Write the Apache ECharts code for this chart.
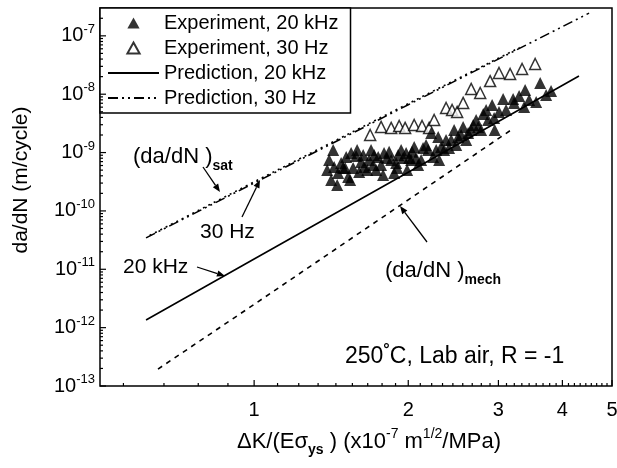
<!DOCTYPE html>
<html>
<head>
<meta charset="utf-8">
<script src="https://cdn.jsdelivr.net/npm/echarts@6/dist/echarts.min.js"></script>
<style>
html,body{margin:0;padding:0;background:#fff}
#chart{width:617px;height:468px}
</style>
</head>
<body>
<div id="chart"></div>
<script>
// Crack growth rate vs normalised stress intensity range (log-log)
const expHighFreq = [ // Experiment, 20 kHz  [dK/(E*sys), da/dN]
  [1.389,5.02e-10],[1.401,7.46e-10],[1.414,3.39e-10],[1.427,1.11e-9],[1.433,5.65e-10],
  [1.453,2.79e-10],[1.459,4.46e-10],[1.479,6.63e-10],[1.492,5.43e-10],[1.506,5.43e-10],
  [1.513,8.39e-10],[1.526,3.81e-10],[1.540,3.39e-10],[1.547,9.87e-10],[1.561,5.43e-10],
  [1.582,8.73e-10],[1.589,1.11e-9],[1.604,4.64e-10],[1.618,6.90e-10],[1.633,9.12e-10],
  [1.640,5.65e-10],[1.663,5.02e-10],[1.677,7.46e-10],[1.692,1.11e-9],[1.708,6.11e-10],
  [1.716,9.12e-10],[1.731,5.02e-10],[1.747,8.39e-10],[1.770,6.11e-10],[1.786,4.13e-10],
  [1.794,9.87e-10],[1.818,8.07e-10],[1.835,1.03e-9],[1.852,7.46e-10],[1.877,4.46e-10],
  [1.894,6.63e-10],[1.903,5.43e-10],[1.911,9.12e-10],[1.937,1.11e-9],[1.954,8.07e-10],
  [1.981,9.87e-10],[1.990,5.02e-10],[2.008,8.07e-10],[2.026,7.46e-10],[2.035,1.03e-9],
  [2.054,1.25e-9],[2.072,8.07e-10],[2.091,6.11e-10],[2.119,7.46e-10],[2.138,1.20e-9],
  [2.167,1.35e-9],[2.187,1.11e-9],[2.217,2.17e-9],[2.237,8.39e-10],[2.268,1.11e-9],
  [2.288,1.85e-9],[2.298,7.46e-10],[2.319,1.25e-9],[2.350,1.11e-9],[2.371,1.64e-9],
  [2.403,1.20e-9],[2.426,1.64e-9],[2.458,2.44e-9],[2.481,1.35e-9],[2.503,1.85e-9],
  [2.537,2.00e-9],[2.560,2.75e-9],[2.595,1.64e-9],[2.618,2.17e-9],[2.654,2.44e-9],
  [2.678,2.97e-9],[2.714,3.61e-9],[2.739,2.75e-9],[2.776,2.44e-9],[2.802,4.58e-9],
  [2.839,5.36e-9],[2.864,3.61e-9],[2.916,6.54e-9],[2.943,3.90e-9],[2.950,2.44e-9],
  [3.008,4.95e-9],[3.064,8.28e-9],[3.105,5.36e-9],[3.205,8.28e-9],[3.219,7.08e-9],
  [3.293,9.31e-9],[3.368,6.05e-9],[3.383,1.18e-8],[3.444,7.96e-9],[3.555,7.36e-9],
  [3.620,1.56e-8],[3.718,9.69e-9],[3.802,1.13e-8]
];
const expLowFreq = [ // Experiment, 30 Hz
  [1.685,2.00e-9],[1.770,2.75e-9],[1.852,2.64e-9],[1.920,2.85e-9],[1.972,2.64e-9],
  [2.054,2.97e-9],[2.128,2.85e-9],[2.197,2.64e-9],[2.247,3.61e-9],[2.371,5.80e-9],
  [2.436,5.36e-9],[2.492,4.95e-9],[2.560,7.08e-9],[2.654,1.23e-8],[2.764,1.05e-8],
  [2.890,1.68e-8],[3.008,2.31e-8],[3.162,2.22e-8],[3.337,2.70e-8],[3.539,3.29e-8]
];
const predHighFreq = [[0.615,1.35e-12],[1,1.5e-11],[2,4.6e-10],[3,3.4e-9],[4.31,2.05e-8]];
const predLowFreq = [[0.615,3.45e-11],[1,3.0e-10],[2,6.6e-9],[4.51,2.45e-7]];
const satRate = [[0.625,3.8e-11],[1,3.15e-10],[2,6.9e-9],[3.3,6.3e-8]];
const mechRate = [[0.649,1.95e-13],[1,2.5e-12],[2,1.55e-10],[3.2,2.55e-9]];

const legendNames = ['Experiment, 20 kHz','Experiment, 30 Hz','Prediction, 20 kHz','Prediction, 30 Hz'];
const xMajorTicks = [1,2,3,4,5];
const yMajorExponents = [-13,-12,-11,-10,-9,-8,-7];

const X_MIN = 0.5, X_MAX = 5, Y_MIN = 1e-13, Y_MAX = 3e-7;

// minor ticks: eight linear subdivisions between integer steps (x) and decades (y)
const xMinorTicks = [];
for (let n = 0; n < 5; n++) for (let k = 1; k <= 8; k++) {
  const v = n + k / 9;
  if (v > X_MIN && v < X_MAX) xMinorTicks.push(v);
}
const yMinorTicks = [];
for (let e = -13; e <= -7; e++) for (let m = 2; m <= 9; m++) {
  const v = m * Math.pow(10, e);
  if (v < Y_MAX) yMinorTicks.push(v);
}

const FONT = '"Liberation Sans", Arial, sans-serif';
const BLACK = '#000';
const TRIANGLE = 'path://M5,0L10,9L0,9Z';

const xTickData = xMajorTicks.map(v => [v, Y_MIN, 1]).concat(xMinorTicks.map(v => [v, Y_MIN, 0]));
const yTickData = yMajorExponents.map(e => [X_MIN, Math.pow(10, e), 1, e]).concat(yMinorTicks.map(v => [X_MIN, v, 0, 0]));

function renderXTick(params, api) {
  const x = api.value(0);
  const p = api.coord([x, Y_MIN]);
  const major = api.value(2) === 1;
  const kids = [{type: 'line', shape: {x1: p[0], y1: p[1], x2: p[0], y2: p[1] - (major ? 6 : 3)},
    style: {stroke: BLACK, lineWidth: 1.2}}];
  if (major) kids.push({type: 'text', style: {text: String(x), x: p[0], y: p[1] + 14,
    align: 'center', verticalAlign: 'top', fill: BLACK, font: '20px ' + FONT}});
  return {type: 'group', children: kids};
}
function renderYTick(params, api) {
  const p = api.coord([X_MIN, api.value(1)]);
  const major = api.value(2) === 1;
  const kids = [{type: 'line', shape: {x1: p[0], y1: p[1], x2: p[0] + (major ? 6 : 3), y2: p[1]},
    style: {stroke: BLACK, lineWidth: 1.2}}];
  if (major) kids.push({type: 'text', style: {
    text: '{b|10}{s|' + api.value(3) + '}', x: p[0] - 5, y: p[1], align: 'right', verticalAlign: 'middle',
    rich: {b: {fontSize: 20, fontFamily: FONT, lineHeight: 26, fill: BLACK},
           s: {fontSize: 13, fontFamily: FONT, lineHeight: 13, verticalAlign: 'top', fill: BLACK}}}});
  return {type: 'group', children: kids};
}

const chart = echarts.init(document.getElementById('chart'), null, {renderer: 'canvas'});

function arrow(x1, y1, x2, y2) {
  const a = Math.atan2(y2 - y1, x2 - x1), L = 8, W = 3.2;
  const bx = x2 - L * Math.cos(a), by = y2 - L * Math.sin(a);
  return [
    {type: 'line', shape: {x1, y1, x2: bx, y2: by}, style: {stroke: BLACK, lineWidth: 1.3}, z: 50},
    {type: 'polygon', shape: {points: [[x2, y2],
      [bx + W * Math.sin(a), by - W * Math.cos(a)], [bx - W * Math.sin(a), by + W * Math.cos(a)]]},
      style: {fill: BLACK}, z: 50}
  ];
}
function label(text, x, y, extra) {
  return Object.assign({type: 'text', x, y, z: 50, style: Object.assign({text, fill: BLACK,
    font: '21px ' + FONT, align: 'left', verticalAlign: 'middle'}, extra || {})});
}
const subRich = {
  m: {fontSize: 22, fontFamily: FONT, lineHeight: 32, fill: BLACK},
  big: {fontSize: 23, fontFamily: FONT, lineHeight: 28, fill: BLACK},
  sub: {fontSize: 14, fontWeight: 'bold', fontFamily: FONT, lineHeight: 14, verticalAlign: 'bottom', fill: BLACK},
  sup: {fontSize: 14, fontFamily: FONT, lineHeight: 14, verticalAlign: 'top', fill: BLACK},
  t: {fontSize: 22, fontFamily: FONT, lineHeight: 30, fill: BLACK},
  deg: {fontSize: 16, fontWeight: 'bold', fontFamily: FONT, lineHeight: 16, verticalAlign: 'top', fill: BLACK}
};

const hiddenMarker = {opacity: 0};

chart.setOption({
  animation: false,
  grid: {left: 100, right: 5, top: 8, bottom: 82, show: true, borderColor: BLACK, borderWidth: 1.5},
  xAxis: {type: 'log', logBase: 10, min: X_MIN, max: X_MAX,
    axisLine: {show: false}, axisTick: {show: false}, axisLabel: {show: false}, splitLine: {show: false}, minorTick: {show: false}},
  yAxis: {type: 'log', logBase: 10, min: Y_MIN, max: Y_MAX,
    axisLine: {show: false}, axisTick: {show: false}, axisLabel: {show: false}, splitLine: {show: false}, minorTick: {show: false}},
  legend: {
    data: [
      {name: legendNames[0], icon: TRIANGLE},
      {name: legendNames[1], icon: TRIANGLE},
      {name: legendNames[2], itemStyle: hiddenMarker},
      {name: legendNames[3], itemStyle: hiddenMarker}
    ],
    orient: 'vertical', left: 100, top: 8, symbolKeepAspect: true,
    itemWidth: 51, itemHeight: 11, itemGap: 5, padding: [5, 12, 5, 7],
    backgroundColor: '#fff', borderColor: BLACK, borderWidth: 1.5,
    textStyle: {fontSize: 20, lineHeight: 20, color: BLACK, fontFamily: FONT},
    selectedMode: false
  },
  series: [
    {name: 'xticks', type: 'custom', data: xTickData, renderItem: renderXTick, silent: true, z: 5},
    {name: 'yticks', type: 'custom', data: yTickData, renderItem: renderYTick, silent: true, z: 5},
    {name: '(da/dN)sat', type: 'line', data: satRate, showSymbol: false, symbol: 'none',
      itemStyle: {color: BLACK}, lineStyle: {color: BLACK, width: 1.6, type: [2, 4]}},
    {name: 'Prediction, 30 Hz', type: 'line', data: predLowFreq, showSymbol: false, symbol: 'none',
      itemStyle: {color: BLACK}, lineStyle: {color: BLACK, width: 1.6, type: [10, 4, 2, 4, 2, 4]}},
    {name: 'Prediction, 20 kHz', type: 'line', data: predHighFreq, showSymbol: false, symbol: 'none',
      itemStyle: {color: BLACK}, lineStyle: {color: BLACK, width: 1.6}},
    {name: '(da/dN)mech', type: 'line', data: mechRate, showSymbol: false, symbol: 'none',
      itemStyle: {color: BLACK}, lineStyle: {color: BLACK, width: 1.6, type: [5, 5]}},
    {name: 'Experiment, 30 Hz', type: 'scatter', data: expLowFreq, symbol: 'triangle', symbolSize: 11,
      itemStyle: {color: '#fff', borderColor: BLACK, borderWidth: 1.5}},
    {name: 'Experiment, 20 kHz', type: 'scatter', data: expHighFreq, symbol: 'triangle', symbolSize: 12,
      itemStyle: {color: BLACK}}
  ],
  graphic: [
    // axis titles
    {type: 'text', x: 21, y: 180, rotation: Math.PI / 2, style: {text: 'da/dN (m/cycle)', fill: BLACK,
      font: '21px ' + FONT, align: 'center', verticalAlign: 'middle'}},
    {type: 'text', x: 369, y: 442, style: {
      text: '{t|ΔK/(Eσ}{sub|ys}{t| ) (x10}{sup|-7}{t| m}{sup|1/2}{t|/MPa)}',
      rich: subRich, align: 'center', verticalAlign: 'middle'}},
    // annotations
    label('{m|(da/dN )}{sub|sat}', 133, 157, {rich: subRich}),
    ...arrow(203, 167, 220, 192),
    label('30 Hz', 200, 232),
    ...arrow(242, 217, 260, 180),
    label('20 kHz', 123, 267),
    ...arrow(197, 267, 225, 276),
    label('{m|(da/dN )}{sub|mech}', 385, 271, {rich: subRich}),
    ...arrow(427, 242, 400, 206),
    label('{big|250}{deg|°}{big|C, Lab air, R = -1}', 345, 357, {rich: subRich})
  ]
});
</script>
</body>
</html>
